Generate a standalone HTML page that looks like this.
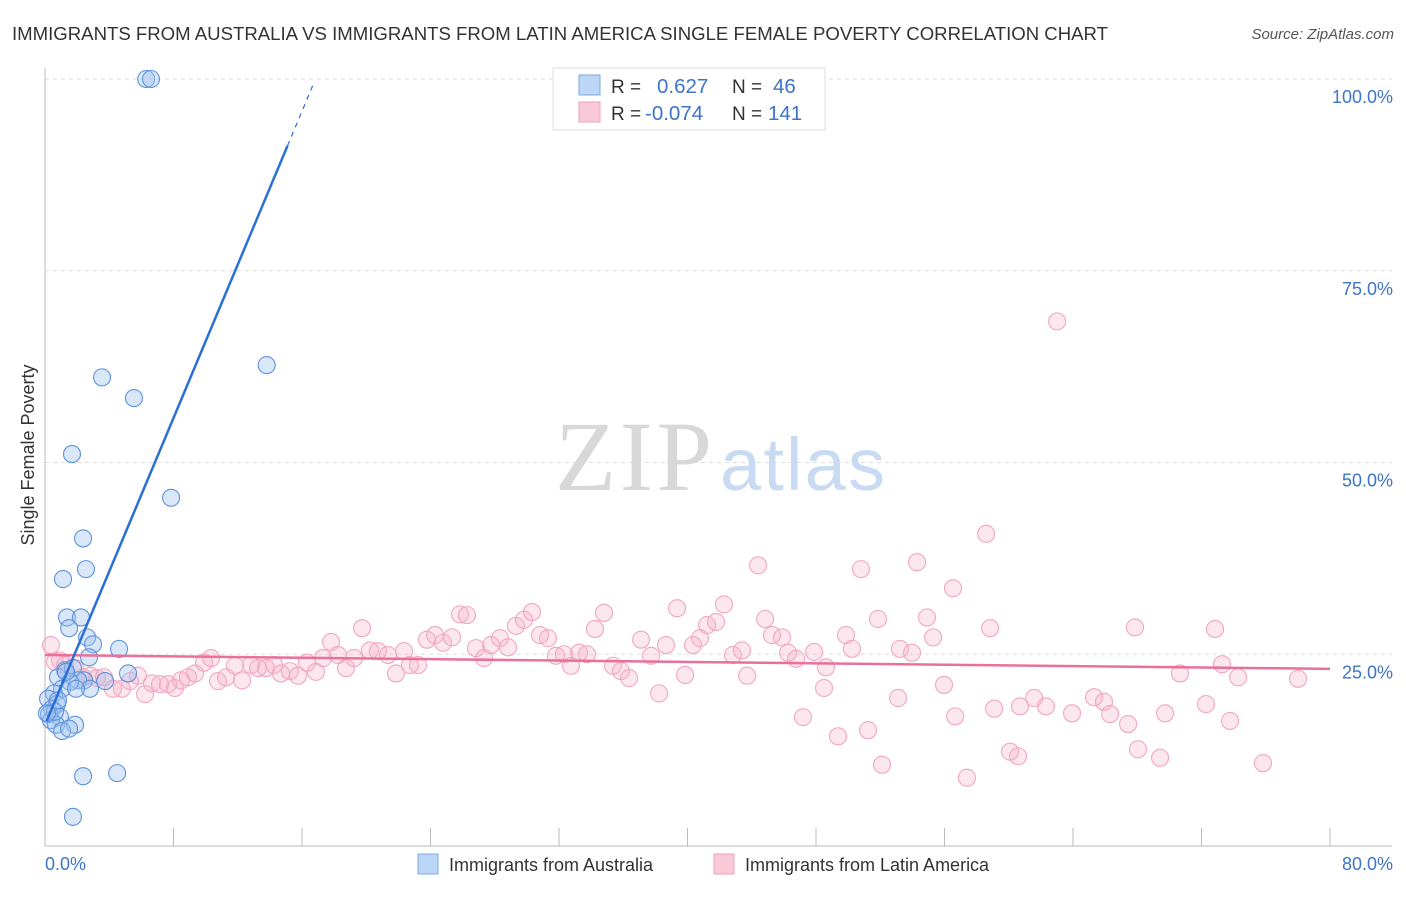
<!DOCTYPE html>
<html><head><meta charset="utf-8"><style>
body{margin:0;background:#fff;font-family:"Liberation Sans",sans-serif;}
svg text{font-family:"Liberation Sans",sans-serif;}
</style></head><body>
<svg id="chart" width="1406" height="892" xmlns="http://www.w3.org/2000/svg">
<text x="12" y="40" font-size="18.6" fill="#333" textLength="1096">IMMIGRANTS FROM AUSTRALIA VS IMMIGRANTS FROM LATIN AMERICA SINGLE FEMALE POVERTY CORRELATION CHART</text>
<text x="1394" y="39" font-size="15" fill="#555" font-style="italic" text-anchor="end">Source: ZipAtlas.com</text>
<g id="grid"></g>
<text x="555" y="490" font-size="100" fill="#d8d8d8" textLength="157" style="font-family:'Liberation Serif',serif">ZIP</text>
<text x="720" y="490" font-size="74" fill="#c9dbf2" textLength="165">atlas</text>
<g id="axes"></g>
<g id="marks"></g>
<text x="0" y="0" transform="translate(34,455) rotate(-90)" font-size="18" fill="#333" text-anchor="middle">Single Female Poverty</text>
<text x="45" y="870" font-size="18" fill="#3d74c9">0.0%</text>
<text x="1393" y="870" font-size="18" fill="#3d74c9" text-anchor="end">80.0%</text>
<g><rect x="418" y="854" width="20" height="20" fill="#bcd6f5" stroke="#7aa8e6"/><text x="449" y="871" font-size="18" fill="#333">Immigrants from Australia</text></g>
<g><rect x="714" y="854" width="20" height="20" fill="#f9c9d8" stroke="#f0a0bb"/><text x="745" y="871" font-size="18" fill="#333">Immigrants from Latin America</text></g>
<g>
<rect x="553" y="68" width="272" height="62" fill="#fff" stroke="#ddd"/>
<rect x="579" y="75" width="21" height="20" fill="#bcd6f5" stroke="#7aa8e6"/>
<rect x="579" y="102" width="21" height="20" fill="#f9c9d8" stroke="#f0a0bb"/>
<text x="611" y="93" font-size="19" fill="#333">R =</text><text x="657" y="93" font-size="20.5" fill="#3d74c9">0.627</text>
<text x="732" y="93" font-size="19" fill="#333">N =</text><text x="773" y="93" font-size="20.5" fill="#3d74c9">46</text>
<text x="611" y="120" font-size="19" fill="#333">R =</text><text x="645" y="120" font-size="20.5" fill="#3d74c9">-0.074</text>
<text x="732" y="120" font-size="19" fill="#333">N =</text><text x="768" y="120" font-size="20.5" fill="#3d74c9">141</text>
</g>
</svg>
<script>
const yTicks=[25,50,75,100];
const yTickLabels=["25.0%","50.0%","75.0%","100.0%"];
const xTicks=[0,8,16,24,32,40,48,56,64,72,80];
const ausX=[6.3,6.6,13.8,3.55,5.54,1.68,7.85,2.37,2.55,1.12,1.37,2.24,1.5,2.62,2.99,4.61,2.74,5.17,1.25,1.74,0.81,2.43,2.06,1.56,3.74,2.8,1.06,1.93,0.56,0.19,0.75,0.44,0.25,0.93,0.37,1.87,0.69,1.06,1.5,2.37,4.49,1.74,1.31,0.62,0.81,0.12];
const ausY=[100,100,62.7,61.1,58.4,51.1,45.4,40.1,36.1,34.8,29.8,29.8,28.4,27.2,26.3,25.7,24.6,22.5,22.9,23.2,22.0,21.6,21.6,21.4,21.5,20.5,20.5,20.5,19.9,19.2,18.5,17.9,17.2,16.8,16.4,15.8,15.8,15.0,15.3,9.1,9.5,3.8,22.7,17.5,19.0,17.3];
const latX=[0.37,0.62,0.93,1.25,1.87,2.37,2.8,3.24,3.67,4.23,4.79,5.29,5.79,6.23,6.66,7.16,7.66,8.09,8.47,8.9,9.34,9.9,10.34,10.77,11.27,11.83,12.27,12.83,13.26,13.76,14.26,14.69,15.25,15.75,16.31,16.87,17.31,17.81,18.24,18.74,19.24,19.74,20.23,20.73,21.35,21.85,22.35,22.72,23.22,23.78,24.28,24.78,25.34,25.84,26.27,26.83,27.33,27.77,28.33,28.83,29.32,29.82,30.32,30.82,31.32,31.81,32.31,32.75,33.25,33.74,34.24,34.8,35.36,35.86,36.36,37.11,37.73,38.23,38.66,39.35,39.85,40.34,40.78,41.22,41.78,42.27,42.83,43.39,43.71,44.39,44.83,45.26,45.89,46.26,46.76,47.19,47.88,48.5,48.62,49.37,49.87,50.24,50.8,51.24,51.86,52.11,53.11,53.23,53.98,54.29,54.91,55.29,55.97,56.53,56.66,57.4,58.59,58.84,59.09,60.08,60.58,60.7,61.58,62.32,63.01,63.94,65.31,65.93,66.31,67.43,67.86,68.05,69.42,69.73,70.66,72.28,72.84,73.28,73.78,74.28,75.83,78.01];
const latY=[26.2,24.0,24.2,23.6,23.2,22.0,22.2,21.9,22.0,20.5,20.5,21.5,22.2,19.8,21.2,21.1,21.1,20.6,21.6,22.0,22.5,23.9,24.5,21.5,22.0,23.5,21.6,23.6,23.2,23.2,23.6,22.5,22.8,22.2,23.9,22.7,24.5,26.6,24.9,23.2,24.5,28.4,25.5,25.4,24.9,22.5,25.4,23.6,23.6,26.9,27.5,26.5,27.2,30.2,30.1,25.8,24.5,26.2,27.1,25.9,28.7,29.5,30.5,27.5,27.1,24.8,25.0,23.5,25.2,25.0,28.3,30.4,23.5,22.8,21.9,26.9,24.8,19.9,26.2,31.0,22.3,26.2,27.1,28.8,29.2,31.5,24.9,25.5,22.2,36.6,29.6,27.5,27.2,25.2,24.4,16.8,25.3,20.6,23.3,14.3,27.5,25.7,36.1,15.1,29.6,10.6,19.3,25.7,25.2,37.0,29.8,27.2,21.0,33.6,16.9,8.9,40.7,28.4,17.9,12.3,11.7,18.2,19.3,18.2,68.4,17.3,19.4,18.8,17.2,15.9,28.5,12.6,11.5,17.3,22.5,18.5,28.3,23.7,16.3,22.0,10.8,21.8];
const ausFit=[15.8,5.0];
const latFit=[24.9,-0.0225];
const X0=45,X1=1330,Y0=846,Y100=79;
const sx=v=>X0+(X1-X0)*v/80;
const sy=v=>Y0-(Y0-Y100)*v/100;
const NS="http://www.w3.org/2000/svg";
function mk(tag,parent,attrs){const e=document.createElementNS(NS,tag);for(const k in attrs)e.setAttribute(k,attrs[k]);parent.appendChild(e);return e;}
const grid=document.getElementById('grid'),axes=document.getElementById('axes'),marks=document.getElementById('marks');
yTicks.forEach((t,i)=>{
  const l=mk('line',grid,{x1:45,x2:1392,y1:sy(t),y2:sy(t),stroke:'#ddd','stroke-dasharray':'4,4'});
  
  
  const tx=mk('text',axes,{x:1393,y:sy(t)+24,'font-size':18,fill:'#3d74c9','text-anchor':'end'});
  tx.textContent=yTickLabels[i];
  
  
});
const la=mk('line',axes,{x1:45,x2:45,y1:68,y2:846,stroke:'#bbb'});


const lb=mk('line',axes,{x1:45,x2:1392,y1:846,y2:846,stroke:'#bbb'});


xTicks.forEach(t=>{
  const l=mk('line',axes,{x1:sx(t),x2:sx(t),y1:828,y2:846,stroke:'#bbb'});
  
  
});
latX.forEach((x,i)=>{
  const c=mk('circle',marks,{cx:sx(x),cy:sy(latY[i]),r:8.5,fill:'rgba(246,175,200,0.3)',stroke:'#f2a6bf','stroke-width':1.1});
  
  
});
ausX.forEach((x,i)=>{
  const c=mk('circle',marks,{cx:sx(x),cy:sy(ausY[i]),r:8.5,fill:'rgba(160,196,240,0.4)',stroke:'#5d93dc','stroke-width':1.1});
  
  
});
const lp=mk('line',marks,{x1:sx(0),y1:sy(latFit[0]),x2:sx(80),y2:sy(latFit[0]+latFit[1]*80),stroke:'#e8709a','stroke-width':2.5});


const xs=0.1,xe=15.1,xd=16.7;
const lbl=mk('line',marks,{x1:sx(xs),y1:sy(ausFit[0]+ausFit[1]*xs),x2:sx(xe),y2:sy(ausFit[0]+ausFit[1]*xe),stroke:'#2a6fd6','stroke-width':2.5});


const lbd=mk('line',marks,{x1:sx(xe),y1:sy(ausFit[0]+ausFit[1]*xe),x2:sx(xd),y2:sy(ausFit[0]+ausFit[1]*xd),stroke:'#2a6fd6','stroke-width':1.2,'stroke-dasharray':'5,5'});


</script>
</body></html>
